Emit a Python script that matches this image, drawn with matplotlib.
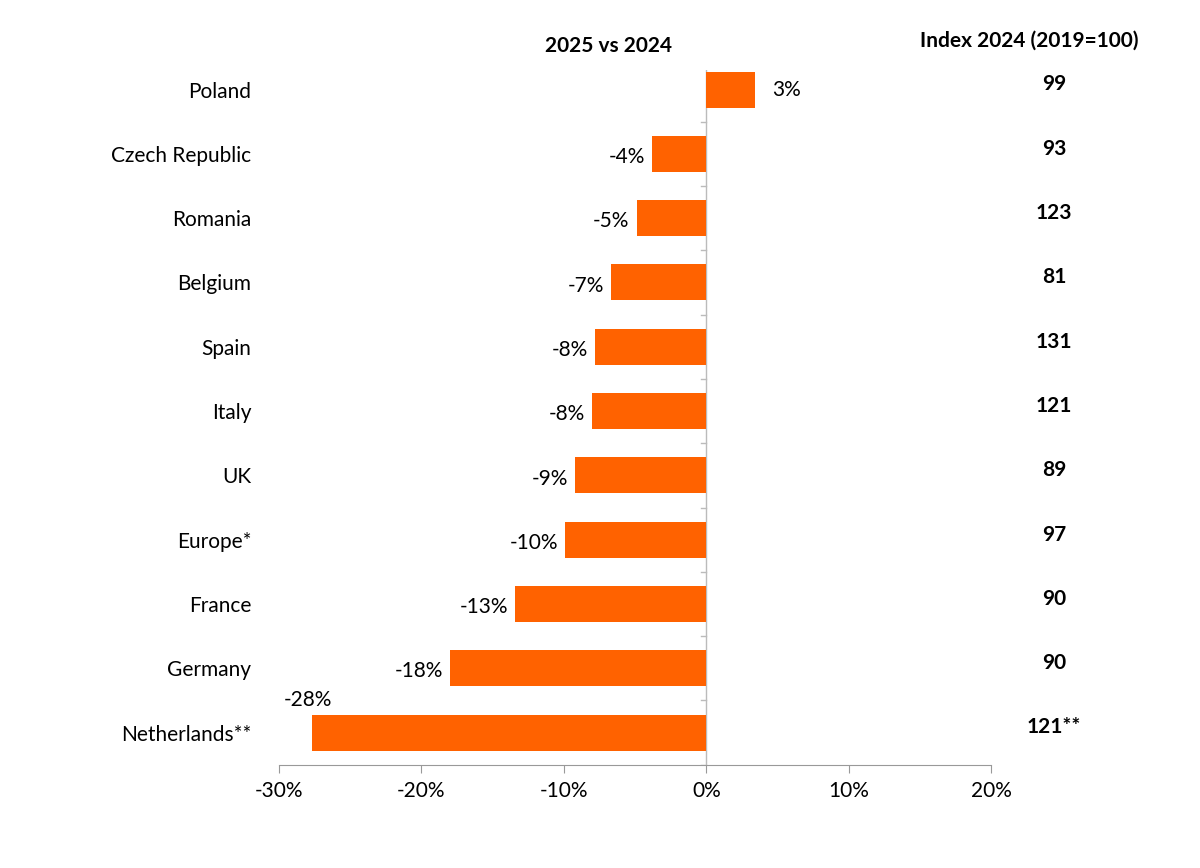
import matplotlib.pyplot as plt
import numpy as np

plt.rcParams['font.family'] = ['Lato', 'DejaVu Sans']

countries = ["Poland", "Czech Republic", "Romania", "Belgium", "Spain", "Italy",
             "UK", "Europe*", "France", "Germany", "Netherlands**"]
change = [3.4, -3.8, -4.9, -6.7, -7.8, -8.0, -9.2, -9.9, -13.4, -18.0, -27.7]
change_labels = ["3%", "-4%", "-5%", "-7%", "-8%", "-8%", "-9%", "-10%", "-13%", "-18%", "-28%"]
index_2024 = ["99", "93", "123", "81", "131", "121", "89", "97", "90", "90", "121**"]

fig = plt.figure(figsize=(12, 8.68), dpi=100)
ax = fig.add_axes([0.2325, 0.119, 0.5935, 0.80])

y = np.arange(len(countries))
ax.barh(y, change, height=0.56, color='#FF6200', zorder=3)
ax.set_ylim(len(countries) - 0.5, -0.3)
ax.set_xlim(-30, 20)
ax.set_xticks([-30, -20, -10, 0, 10, 20])
ax.set_xticklabels(["-30%", "-20%", "-10%", "0%", "10%", "20%"], fontsize=15)

for s in ['top', 'right', 'left']:
    ax.spines[s].set_visible(False)
ax.spines['bottom'].set_color('#999999')
ax.tick_params(axis='x', length=6, color='#999999', pad=6)
ax.axvline(0, color='#bbbbbb', lw=1, zorder=2)
for b in np.arange(len(countries) + 1) - 0.5:
    ax.plot([-0.4, 0], [b, b], color='#bbbbbb', lw=1, zorder=2)

ax.set_yticks(y)
ax.set_yticklabels(countries, fontsize=15)
ax.tick_params(axis='y', length=0, pad=20)

for i, (v, lab) in enumerate(zip(change, change_labels)):
    if v >= 0:
        ax.text(v + 1.2, i, lab, va='center', ha='left', fontsize=15)
    elif i == len(countries) - 1:
        ax.text(v - 0.3, i - 0.5, lab, va='center', ha='center', fontsize=15)
    else:
        ax.text(v - 0.5, i + 0.05, lab, va='center', ha='right', fontsize=15)
    ax.text(24.4, i - 0.08, index_2024[i], va='center', ha='center',
            fontsize=15, fontweight='bold')

fig.text(0.507, 0.947, "2025 vs 2024", ha='center', va='center', fontsize=15, fontweight='bold')
fig.text(0.858, 0.953, "Index 2024 (2019=100)", ha='center', va='center', fontsize=15, fontweight='bold')

fig.savefig("out.png", dpi=100)
